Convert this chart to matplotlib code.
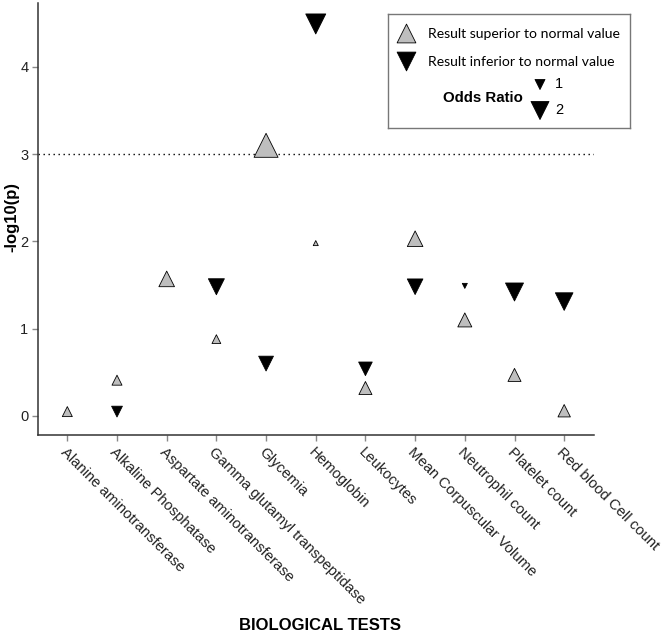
import numpy as np
import matplotlib
matplotlib.use("Agg")
import matplotlib.pyplot as plt

tests = ["Alanine aminotransferase", "Alkaline Phosphatase", "Aspartate aminotransferase",
         "Gamma glutamyl transpeptidase", "Glycemia", "Hemoglobin", "Leukocytes",
         "Mean Corpuscular Volume", "Neutrophil count", "Platelet count", "Red blood Cell count"]

# result superior to normal value: -log10(p) and odds ratio
sup_p = [0.05, 0.41, 1.57, 0.88, 3.10, 1.98, 0.32, 2.03, 1.10, 0.47, 0.06]
sup_or = [1.0, 1.0, 1.7, 0.85, 2.75, 0.38, 1.38, 1.7, 1.5, 1.38, 1.3]
# result inferior to normal value (nan = no result)
inf_p = [np.nan, 0.05, np.nan, 1.48, 0.60, 4.49, 0.54, 1.48, 1.49, 1.42, 1.31]
inf_or = [np.nan, 1.1, np.nan, 1.75, 1.6, 2.25, 1.45, 1.7, 0.38, 2.0, 1.95]

threshold = 3
or_legend = [1, 2]

DPI = 100


def or_to_s(o):
    # triangle width in pixels grows with odds ratio -> scatter area in pt^2
    w = 2 + 8 * np.asarray(o, dtype=float)
    ms = w * 72 / DPI
    return ms ** 2


fig = plt.figure(figsize=(6.68, 6.36), dpi=DPI)
ax = fig.add_axes([38 / 668, 1 - 435 / 636, (594 - 38) / 668, (435 - 3) / 636])

x = np.arange(len(tests))
ax.axhline(threshold, color="black", lw=1.0, ls=(0, (1, 2.6)), zorder=1)
ax.scatter(x, sup_p, s=or_to_s(sup_or), marker="^", facecolor="#bebebe",
           edgecolor="black", linewidth=0.6, zorder=3)
ax.scatter(x, inf_p, s=or_to_s(inf_or), marker="v", facecolor="black",
           edgecolor="black", linewidth=0.6, zorder=3)

ax.set_xlim(-0.59, 10.6)
ax.set_ylim(-0.218, 4.73)
ax.set_xticks(x)
ax.set_xticklabels(tests, rotation=-45, ha="left", va="top", rotation_mode="anchor",
                   fontsize=10.7, family="Liberation Sans", color="#222222")
ax.set_yticks([0, 1, 2, 3, 4])
ax.set_yticklabels(["0", "1", "2", "3", "4"], fontsize=10.5, family="Liberation Sans",
                   color="#222222")
ax.tick_params(axis="both", length=4, width=1, color="#888888", pad=3)
for s in ["top", "right"]:
    ax.spines[s].set_visible(False)
for s in ["left", "bottom"]:
    ax.spines[s].set_color("#333333")
    ax.spines[s].set_linewidth(1.1)

fig.text(12 / 668, 1 - 217 / 636, "-log10(p)", fontsize=12, fontweight="bold",
         family="Liberation Sans", rotation=90, ha="center", va="center")
fig.text(320 / 668, 1 - 626 / 636, "BIOLOGICAL TESTS", fontsize=12, fontweight="bold",
         family="Liberation Sans", ha="center", va="center")

# legend box, drawn in its own pixel-sized axes
lg = fig.add_axes([388 / 668, 1 - 127.5 / 636, 242 / 668, 114 / 636])
lg.set_xlim(0, 242)
lg.set_ylim(114, 0)
lg.set_xticks([])
lg.set_yticks([])
for s in lg.spines.values():
    s.set_color("#777777")
    s.set_linewidth(1.0)

lg.scatter([18], [19], s=or_to_s(2.1), marker="^", facecolor="#bebebe", edgecolor="black", linewidth=0.6)
lg.scatter([18], [47], s=or_to_s(2.1), marker="v", facecolor="black", edgecolor="black", linewidth=0.6)
lg.text(40, 21, "Result superior to normal value", fontsize=10.1, family="Lato", va="center")
lg.text(40, 48, "Result inferior to normal value", fontsize=10.1, family="Lato", va="center")
lg.text(55, 84, "Odds Ratio", fontsize=10.8, fontweight="bold", family="Liberation Sans", va="center")
lg.scatter([152, 152], [71, 97], s=or_to_s(or_legend), marker="v", facecolor="black",
           edgecolor="black", linewidth=0.6)
for yy, o in zip([70, 96], or_legend):
    lg.text(167, yy, str(o), fontsize=10.5, family="Liberation Sans", va="center")

fig.savefig("out.png", dpi=DPI)
